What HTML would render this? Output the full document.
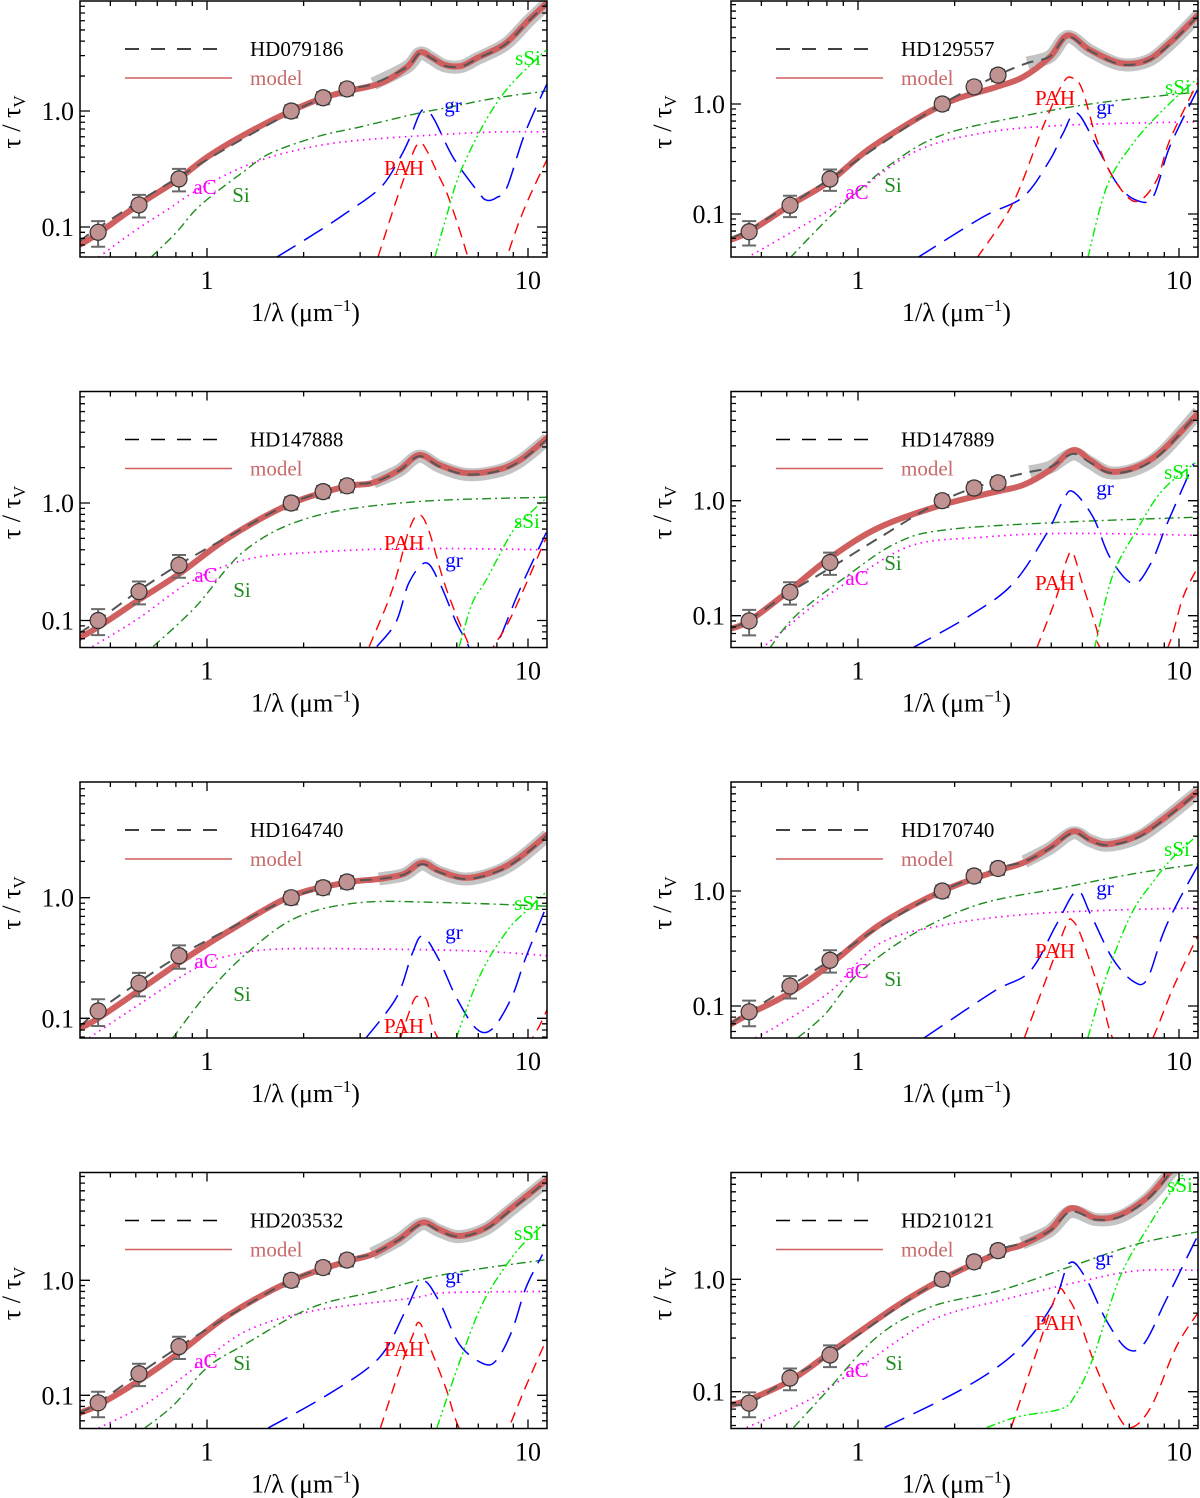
<!DOCTYPE html>
<html><head><meta charset="utf-8"><title>Extinction curve fits</title>
<style>
html,body{margin:0;padding:0;background:#fff;}
svg{display:block;font-family:"Liberation Serif","DejaVu Serif",serif;}
</style></head>
<body>
<svg id="fig" width="1200" height="1498" viewBox="0 0 1200 1498" xmlns="http://www.w3.org/2000/svg"></svg>
<script>
// ---------- data ----------
const starNames = ["HD079186","HD129557","HD147888","HD147889","HD164740","HD170740","HD203532","HD210121"];
const pointX = [0.458,0.614,0.818,1.83,2.3,2.73];
const pointErr = [0.25,0.22,0.22,0.12,0.12,0.12];
const pointY = [
 [0.09,0.155,0.26,1.0,1.3,1.55],
 [0.069,0.12,0.208,1.0,1.43,1.83],
 [0.1,0.176,0.296,1.0,1.25,1.4],
 [0.09,0.16,0.29,1.0,1.29,1.43],
 [0.115,0.195,0.33,1.0,1.21,1.35],
 [0.089,0.149,0.25,1.0,1.35,1.57],
 [0.086,0.154,0.265,1.0,1.29,1.5],
 [0.079,0.132,0.212,1.0,1.43,1.8]
];
const modelCurves = [
 [[0.4,0.07],[0.45,0.085],[0.6,0.15],[0.8,0.25],[1,0.4],[1.3,0.62],[1.8,0.98],[2.3,1.3],[2.8,1.5],[3.5,1.75],[4.2,2.4],[4.6,3.2],[5.0,2.9],[5.5,2.5],[6.2,2.45],[7,2.9],[8.5,3.8],[10,6.0],[11.5,8.6]],
 [[0.4,0.058],[0.458,0.069],[0.614,0.12],[0.82,0.2],[1.11,0.41],[1.83,0.98],[2.7,1.43],[3.27,1.76],[3.96,2.67],[4.5,4.2],[5.28,3.1],[6.55,2.36],[7.95,2.5],[9.36,3.6],[11.5,6.5]],
 [[0.4,0.071],[0.458,0.088],[0.614,0.15],[0.82,0.25],[1.17,0.51],[1.83,0.99],[2.7,1.38],[3.27,1.48],[3.96,1.9],[4.58,2.56],[5.3,2.1],[6.4,1.8],[7.95,1.9],[9.4,2.3],[11.5,3.6]],
 [[0.4,0.077],[0.458,0.09],[0.614,0.167],[0.82,0.32],[1.17,0.59],[1.83,0.92],[2.7,1.2],[3.27,1.37],[3.96,1.85],[4.67,2.75],[5.28,2.25],[6.1,1.79],[7.4,1.97],[8.9,2.75],[11.5,5.8]],
 [[0.4,0.082],[0.458,0.1],[0.614,0.17],[0.82,0.29],[1.17,0.53],[1.83,1.03],[2.7,1.33],[3.43,1.43],[4.1,1.57],[4.67,1.95],[5.28,1.67],[6.4,1.46],[7.95,1.67],[9.4,2.15],[11.5,3.35]],
 [[0.4,0.069],[0.458,0.085],[0.614,0.13],[0.82,0.23],[1.17,0.51],[1.83,1.0],[2.7,1.49],[3.27,1.76],[3.96,2.38],[4.67,3.3],[5.28,2.8],[6.0,2.55],[7.4,3.0],[8.9,4.2],[11.5,7.4]],
 [[0.4,0.07],[0.458,0.082],[0.614,0.134],[0.82,0.235],[1.17,0.5],[1.83,0.99],[2.7,1.45],[3.27,1.68],[3.96,2.27],[4.67,3.17],[5.28,2.77],[6.1,2.43],[7.4,2.86],[8.9,4.27],[11.5,7.55]],
 [[0.4,0.076],[0.458,0.085],[0.613,0.125],[0.815,0.22],[1.31,0.57],[1.83,1.0],[2.79,1.76],[3.24,2.02],[3.96,2.75],[4.6,4.28],[5.5,3.5],[6.55,3.73],[8.0,5.4],[9.3,8.8],[10.5,13]]
];
const obsCurves = [
 [[0.4,0.075],[0.45,0.095],[0.6,0.16],[0.8,0.26],[1,0.38],[1.3,0.58],[1.8,0.95],[2.3,1.3],[2.8,1.55],[3.3,1.72],[4.2,2.4],[4.6,3.15],[5,2.85],[5.5,2.45],[6.2,2.42],[7,2.85],[8.5,3.75],[10,5.9],[11.5,8.5]],
 [[0.4,0.06],[0.458,0.072],[0.614,0.122],[0.82,0.21],[1.23,0.47],[1.83,1.0],[2.73,1.83],[3.37,2.36],[3.96,2.7],[4.5,4.1],[5.28,3.05],[6.55,2.3],[7.95,2.45],[9.36,3.5],[11.5,6.4]],
 [[0.4,0.078],[0.458,0.1],[0.614,0.18],[0.82,0.3],[1.17,0.52],[1.83,1.0],[2.73,1.4],[3.3,1.5],[3.96,1.88],[4.58,2.5],[5.3,2.05],[6.4,1.75],[7.95,1.85],[9.4,2.25],[11.5,3.5]],
 [[0.4,0.077],[0.458,0.092],[0.614,0.16],[0.82,0.26],[1.17,0.48],[1.83,1.0],[2.7,1.5],[3.43,1.78],[3.96,1.95],[4.67,2.55],[5.28,2.15],[6.1,1.75],[7.4,1.9],[8.9,2.65],[11.5,5.9]],
 [[0.4,0.085],[0.458,0.115],[0.614,0.2],[0.82,0.33],[1.17,0.55],[1.83,1.0],[2.7,1.34],[3.43,1.43],[4.1,1.55],[4.67,1.9],[5.28,1.63],[6.4,1.43],[7.95,1.63],[9.4,2.1],[11.5,3.3]],
 [[0.4,0.07],[0.458,0.089],[0.614,0.149],[0.82,0.25],[1.17,0.49],[1.83,1.0],[2.73,1.57],[3.3,1.8],[3.96,2.35],[4.67,3.2],[5.28,2.75],[6.0,2.5],[7.4,2.9],[8.9,4.1],[11.5,7.3]],
 [[0.4,0.07],[0.458,0.086],[0.614,0.154],[0.82,0.265],[1.17,0.49],[1.83,1.0],[2.73,1.5],[3.27,1.7],[3.96,2.25],[4.67,3.1],[5.28,2.7],[6.1,2.4],[7.4,2.8],[8.9,4.15],[11.5,7.4]],
 [[0.4,0.078],[0.458,0.079],[0.613,0.132],[0.815,0.212],[1.31,0.55],[1.83,1.0],[2.72,1.8],[3.24,2.1],[3.96,2.7],[4.6,4.0],[5.5,3.4],[6.55,3.6],[8.0,5.2],[9.3,8.5],[10.5,13]]
];
const aCCurves = [
 [[0.46,0.055],[0.6,0.094],[0.75,0.14],[0.91,0.2],[1.2,0.3],[1.57,0.4],[2.2,0.5],[3,0.56],[5,0.62],[8,0.66],[11.5,0.66]],
 [[0.45,0.04],[0.614,0.067],[0.92,0.135],[1.48,0.36],[2.4,0.54],[4.35,0.64],[11.5,0.69]],
 [[0.44,0.06],[0.614,0.105],[0.88,0.21],[1.32,0.33],[2.12,0.38],[4.35,0.41],[11.5,0.4]],
 [[0.5,0.052],[0.57,0.07],[0.72,0.12],[0.99,0.22],[1.48,0.41],[2.4,0.48],[4.35,0.52],[11.5,0.5]],
 [[0.43,0.069],[0.64,0.14],[0.92,0.26],[1.17,0.33],[1.65,0.375],[3.43,0.375],[7.1,0.36],[11.5,0.33]],
 [[0.48,0.053],[0.57,0.069],[0.82,0.134],[1.17,0.35],[1.89,0.51],[3.43,0.63],[7.1,0.69],[11.5,0.71]],
 [[0.46,0.052],[0.64,0.083],[0.92,0.174],[1.32,0.36],[2.12,0.54],[4.35,0.7],[5.55,0.78],[11.5,0.8]],
 [[0.45,0.048],[0.7,0.084],[1.02,0.168],[1.69,0.43],[2.79,0.65],[5.2,0.99],[7.6,1.2],[11.6,1.2]]
];
const SiCurves = [
 [[0.67,0.055],[0.8,0.089],[0.92,0.14],[1.07,0.2],[1.3,0.3],[1.57,0.43],[2.2,0.6],[3,0.73],[4.5,0.95],[5.7,1.08],[8,1.3],[11.5,1.49]],
 [[0.614,0.04],[0.88,0.116],[1.32,0.31],[1.89,0.54],[3.43,0.8],[5.55,1.02],[11.5,1.29]],
 [[0.68,0.06],[0.92,0.13],[1.32,0.4],[2.12,0.76],[4.35,1.02],[11.5,1.12]],
 [[0.53,0.052],[0.64,0.1],[0.92,0.22],[1.32,0.43],[1.89,0.56],[4.35,0.65],[11.5,0.72]],
 [[0.78,0.068],[1.0,0.16],[1.32,0.34],[1.89,0.68],[3.0,0.91],[5.5,0.91],[11.5,0.85]],
 [[0.65,0.053],[0.79,0.085],[1.0,0.19],[1.48,0.42],[2.4,0.77],[4.35,1.07],[7.1,1.4],[11.5,1.72]],
 [[0.64,0.052],[0.79,0.083],[1.0,0.174],[1.32,0.28],[2.12,0.58],[3.43,0.81],[5.55,1.13],[11.5,1.52]],
 [[0.63,0.048],[0.79,0.097],[1.15,0.31],[1.69,0.57],[2.79,0.8],[4.6,1.3],[7.6,2.1],[11.6,2.66]]
];
const grCurves = [
 [[1.65,0.055],[2.2,0.09],[2.69,0.13],[3.48,0.22],[4.0,0.4],[4.3,0.6],[4.6,0.95],[4.8,1.02],[5.1,0.85],[5.84,0.4],[7.0,0.2],[7.45,0.17],[8.0,0.18],[8.6,0.22],[9.8,0.65],[11.6,1.85]],
 [[1.53,0.04],[2.45,0.094],[3.27,0.143],[3.96,0.31],[4.35,0.54],[4.8,0.83],[5.55,0.41],[6.4,0.19],[7.3,0.135],[8.3,0.143],[9.36,0.41],[11.4,1.34]],
 [[3.38,0.06],[3.88,0.097],[4.26,0.21],[4.8,0.31],[5.3,0.21],[5.97,0.097],[6.4,0.068],[7.1,0.04],[7.95,0.06],[9.4,0.18],[11.4,0.56]],
 [[1.47,0.052],[2.23,0.1],[3.04,0.19],[3.87,0.52],[4.35,1.0],[4.67,1.2],[5.4,0.72],[6.1,0.32],[7.2,0.19],[8.2,0.29],[9.2,0.64],[11.1,2.1]],
 [[3.12,0.068],[3.9,0.15],[4.35,0.34],[4.7,0.48],[5.3,0.3],[5.97,0.15],[6.9,0.082],[7.75,0.082],[8.9,0.15],[9.85,0.32],[11.5,0.89]],
 [[1.61,0.053],[2.65,0.134],[3.43,0.2],[4.15,0.51],[4.8,1.0],[5.3,0.63],[6.2,0.26],[7.2,0.164],[7.95,0.17],[8.9,0.42],[9.85,0.77],[11.5,1.7]],
 [[1.55,0.052],[2.36,0.1],[3.43,0.21],[4.15,0.54],[4.67,0.99],[5.28,0.66],[6.1,0.28],[7.2,0.19],[7.95,0.2],[8.9,0.36],[9.85,0.86],[11.1,1.68]],
 [[1.21,0.048],[2.17,0.11],[3.16,0.236],[4.06,0.61],[4.55,1.39],[5.1,1.05],[5.94,0.43],[6.9,0.24],[7.8,0.27],[9.1,0.65],[11.4,2.4]]
];
const PAHCurves = [
 [[3.41,0.055],[3.8,0.14],[4.16,0.29],[4.45,0.48],[4.64,0.53],[4.85,0.45],[5.2,0.3],[5.7,0.17],[6.5,0.055],[7.2,0.02],[7.8,0.02],[8.6,0.055],[9.8,0.15],[11.7,0.43]],
 [[2.35,0.04],[3.04,0.126],[3.77,0.62],[4.35,1.55],[4.67,1.72],[5.0,1.34],[5.55,0.47],[6.2,0.22],[7.3,0.13],[8.5,0.2],[9.36,0.47],[11.4,1.55]],
 [[3.2,0.06],[3.77,0.18],[4.26,0.59],[4.58,0.79],[4.9,0.59],[5.55,0.19],[6.45,0.068],[7.1,0.04],[7.8,0.06],[8.9,0.11],[11.4,0.51]],
 [[3.6,0.052],[4.15,0.145],[4.46,0.3],[4.67,0.35],[5.0,0.19],[5.55,0.075],[5.7,0.052],[7.5,0.02],[9.2,0.052],[10.3,0.145],[11.5,0.27]],
 [[4.0,0.068],[4.4,0.14],[4.6,0.15],[4.85,0.14],[5.25,0.068],[7.5,0.02],[10.3,0.068],[11.5,0.12]],
 [[3.3,0.053],[3.96,0.21],[4.46,0.51],[4.67,0.55],[5.0,0.38],[5.7,0.124],[6.2,0.053],[7.2,0.025],[8.3,0.053],[9.6,0.145],[11.5,0.42]],
 [[3.47,0.052],[3.96,0.16],[4.35,0.32],[4.58,0.43],[4.9,0.28],[5.55,0.115],[6.1,0.052],[7.4,0.02],[8.7,0.052],[9.85,0.12],[11.5,0.32]],
 [[3.0,0.048],[3.59,0.22],[4.17,0.75],[4.45,0.72],[4.85,0.46],[5.5,0.168],[6.4,0.064],[7.1,0.048],[8.2,0.074],[9.8,0.25],[11.6,0.53]]
];
const sSiCurves = [
 [[5.13,0.055],[5.6,0.13],[6.13,0.29],[7.2,0.73],[8.2,1.3],[9.3,1.96],[11.7,3.6]],
 [[5.2,0.04],[5.97,0.18],[7.2,0.44],[8.9,0.88],[11.4,1.7]],
 [[6.1,0.06],[6.7,0.14],[7.4,0.22],[8.9,0.56],[9.85,0.76],[11.4,1.1]],
 [[5.45,0.052],[6.2,0.22],[7.4,0.56],[8.9,1.24],[11.4,2.2]],
 [[5.97,0.068],[7.1,0.23],[8.6,0.53],[9.9,0.78],[11.5,1.14]],
 [[5.2,0.053],[5.97,0.19],[7.1,0.63],[8.3,1.2],[9.6,1.97],[11.5,3.1]],
 [[5.2,0.052],[6.1,0.19],[7.2,0.62],[8.6,1.38],[9.85,2.2],[11.5,3.3]],
 [[2.52,0.048],[3.16,0.06],[4.27,0.07],[4.72,0.09],[5.36,0.19],[6.55,1.05],[8.0,2.9],[9.5,6.2],[11,11]]
];
const xTickLabels = ["1","10"];
const xTickValues = [1,10];
const yTickLabels = ["0.1","1.0"];
const yTickValues = [0.1,1.0];

// ---------- layout ----------
const rowTops = [0,390.5,781,1171.5];
const yOnes = [111,104,112.5,110.2,116.7,110,108.8,107.8];
const yDecs = [116,110,117.5,115,120.6,115,115,112.4];
const labelPos = [
 {aC:[205,187],Si:[241,195],gr:[453,105],PAH:[404,168],sSi:[528,58]},
 {aC:[857,192],Si:[893,185],gr:[1105,107],PAH:[1055,98],sSi:[1178,87]},
 {aC:[206,575-390.5],Si:[242,590-390.5],gr:[454,560-390.5],PAH:[404,543-390.5],sSi:[527,521-390.5]},
 {aC:[857,578-390.5],Si:[893,563-390.5],gr:[1105,488-390.5],PAH:[1055,583-390.5],sSi:[1177,472-390.5]},
 {aC:[206,961-781],Si:[242,994-781],gr:[454,932-781],PAH:[404,1026-781],sSi:[527,903-781]},
 {aC:[857,971-781],Si:[893,979-781],gr:[1105,888-781],PAH:[1055,951-781],sSi:[1177,849-781]},
 {aC:[206,1361-1171.5],Si:[242,1363-1171.5],gr:[454,1276-1171.5],PAH:[404,1349-1171.5],sSi:[527,1233-1171.5]},
 {aC:[857,1370-1171.5],Si:[894,1363-1171.5],gr:[1104,1258-1171.5],PAH:[1055,1323-1171.5],sSi:[1180,1185-1171.5]}
];
const NS = "http://www.w3.org/2000/svg";
const svg = document.getElementById('fig');
function mk(tag, attrs, parent){
  const e = document.createElementNS(NS, tag);
  for (const k in attrs) e.setAttribute(k, attrs[k]);
  (parent||svg).appendChild(e);
  return e;
}
function smooth(p){
  if(p.length<2) return "";
  let d = "M"+p[0][0].toFixed(1)+","+p[0][1].toFixed(1);
  for(let i=0;i<p.length-1;i++){
    const p0=p[i-1]||p[i], p1=p[i], p2=p[i+1], p3=p[i+2]||p2;
    const c1=[p1[0]+(p2[0]-p0[0])/6, p1[1]+(p2[1]-p0[1])/6];
    const c2=[p2[0]-(p3[0]-p1[0])/6, p2[1]-(p3[1]-p1[1])/6];
    d += " C"+c1[0].toFixed(1)+","+c1[1].toFixed(1)+" "+c2[0].toFixed(1)+","+c2[1].toFixed(1)+" "+p2[0].toFixed(1)+","+p2[1].toFixed(1);
  }
  return d;
}

for(let i=0;i<8;i++){
  const col = i%2, row = Math.floor(i/2);
  const L = col? 731:80, R = col? 1198:547;
  const T = rowTops[row]+1, B = rowTops[row]+257;
  const x1 = col? 858:207;
  const yOne = rowTops[row]+yOnes[i], dec = yDecs[i];
  const X = v => x1 + 321*Math.log10(v);
  const Y = v => yOne - dec*Math.log10(v);
  const g = mk('g',{});
  
  
  const cid = 'clip'+i;
  const cp = mk('clipPath',{id:cid},g);
  mk('rect',{x:L,y:T,width:R-L,height:B-T},cp);
  const plot = mk('g',{'clip-path':'url(#'+cid+')'},g);
  const toPx = arr => arr.map(p=>[X(p[0]),Y(p[1])]);
  const comps = [
    ['aC',aCCurves[i],'#ff00ff','1.7','1.5 4.5'],
    ['Si',SiCurves[i],'#1e8c1e','1.4','9 4 2 4'],
    ['gr',grCurves[i],'#0000ff','1.5','22 10'],
    ['PAH',PAHCurves[i],'#ff0000','1.4','11 7'],
    ['sSi',sSiCurves[i],'#00ee00','1.4','9 3 2 3 2 3']
  ];
  comps.forEach(c=>{
    const e = mk('path',{d:smooth(toPx(c[1])),fill:'none',stroke:c[2],'stroke-width':c[3],'stroke-dasharray':c[4]},plot);
    
    
  });
  const obsPx = toPx(obsCurves[i]);
  const bandPts = toPx(obsCurves[i].filter(p=>p[0]>=3.2));
  const band = mk('path',{d:smooth(bandPts),fill:'none',stroke:'#c4c4c4','stroke-width':'13'},plot);
  
  
  const model = mk('path',{d:smooth(toPx(modelCurves[i])),fill:'none',stroke:'#d05f5f','stroke-width':'6','stroke-linecap':'round'},plot);
  
  
  const obs = mk('path',{d:smooth(obsPx),fill:'none',stroke:'#555','stroke-width':'2','stroke-dasharray':'12 8'},plot);
  
  
  pointX.forEach((xv,k)=>{
    const yv = pointY[i][k], px = X(xv);
    const yl = Y(yv*(1-pointErr[k])), yh = Y(yv*(1+pointErr[k]));
    const eb = mk('path',{d:`M${px},${yl}V${yh}M${px-7},${yl}H${px+7}M${px-7},${yh}H${px+7}`,stroke:'#6a6a6a','stroke-width':'2',fill:'none'},plot);
    
    
    const c = mk('circle',{cx:px,cy:Y(yv),r:8,fill:'#c09292',stroke:'#333','stroke-width':'1.2'},plot);
    
    
  });
  const lp = labelPos[i];
  const lc = {aC:'#ff00ff',Si:'#1e8c1e',gr:'#0000ff',PAH:'#ff0000',sSi:'#00ee00'};
  for(const k in lp){
    const t = mk('text',{x:lp[k][0],y:rowTops[row]+lp[k][1]+7,'text-anchor':'middle','font-size':'21',fill:lc[k]},g);
    t.textContent = k;
    
    
  }
  const fr = mk('rect',{x:L,y:T,width:R-L,height:B-T,fill:'none',stroke:'#000','stroke-width':'1.5'},g);
  
  
  let td = "";
  for(let dcd=-1; dcd<=1; dcd++){
    for(let m=1;m<=9;m++){
      const v = m*Math.pow(10,dcd), px = X(v);
      if(px<L+1||px>R-1) continue;
      const len = m===1?9:5;
      td += `M${px},${B}v${-len}M${px},${T}v${len}`;
    }
  }
  for(let dcd=-2; dcd<=1; dcd++){
    for(let m=1;m<=9;m++){
      const v = m*Math.pow(10,dcd), py = Y(v);
      if(py<T+1||py>B-1) continue;
      const len = m===1?10:5;
      td += `M${L},${py}h${len}M${R},${py}h${-len}`;
    }
  }
  mk('path',{d:td,stroke:'#000','stroke-width':'1.3',fill:'none'},g);
  xTickValues.forEach((v,k)=>{
    const t = mk('text',{x:X(v),y:B+32,'text-anchor':'middle','font-size':'26'},g);
    t.textContent = xTickLabels[k];
    
    
  });
  yTickValues.forEach((v,k)=>{
    const t = mk('text',{x:L-6,y:Y(v)+9,'text-anchor':'end','font-size':'26'},g);
    t.textContent = yTickLabels[k];
    
    
  });
  const xt = mk('text',{x:(L+R)/2-8,y:B+64,'text-anchor':'middle','font-size':'26'},g);
  xt.innerHTML = '1/λ (μm<tspan dy="-10" font-size="17">−1</tspan><tspan dy="10">)</tspan>';
  
  
  const ycx = L-60, ycy = rowTops[row]+122;
  const yt = mk('text',{x:ycx,y:ycy,'text-anchor':'middle','font-size':'26',transform:`rotate(-90 ${ycx} ${ycy})`},g);
  yt.innerHTML = 'τ / τ<tspan dy="5" font-size="17">V</tspan>';
  
  
  const lg = mk('g',{},g);
  
  
  const ly1 = rowTops[row]+49, ly2 = rowTops[row]+78;
  mk('line',{x1:L+45,x2:L+138,y1:ly1,y2:ly1,stroke:'#000','stroke-width':'1.5','stroke-dasharray':'14 12'},lg);
  const t1 = mk('text',{x:L+170,y:ly1+7,'font-size':'21',fill:'#000'},lg);
  t1.textContent = starNames[i];
  
  
  mk('line',{x1:L+45,x2:L+152,y1:ly2,y2:ly2,stroke:'#d05f5f','stroke-width':'1.6'},lg);
  const t2 = mk('text',{x:L+170,y:ly2+7,'font-size':'21',fill:'#c86a6a'},lg);
  t2.textContent = 'model';
  
  
}
</script>
</body></html>
